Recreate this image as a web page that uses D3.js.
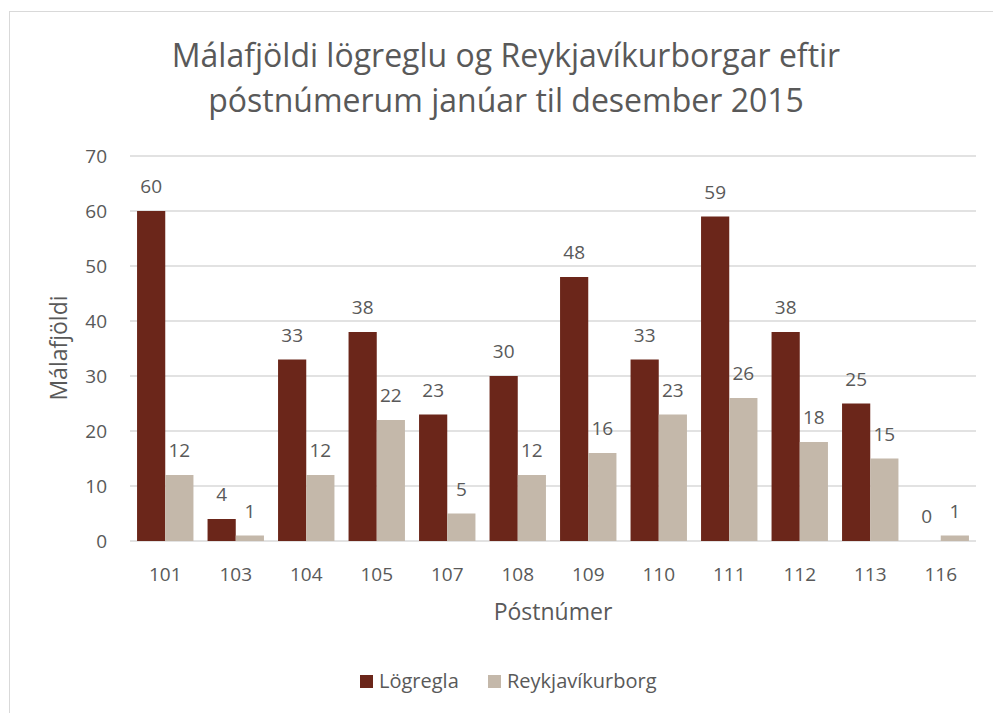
<!DOCTYPE html>
<html>
<head>
<meta charset="utf-8">
<script src="https://cdn.jsdelivr.net/npm/d3@7"></script>
<style>
  body { margin: 0; background: #fff; }
  text { font-family: "Open Sans", sans-serif; fill: #595959; }
</style>
</head>
<body>
<svg id="chart" width="993" height="713"></svg>
<script>
// chart data
const categories = ["101", "103", "104", "105", "107", "108", "109", "110", "111", "112", "113", "116"];
const logregla = [60, 4, 33, 38, 23, 30, 48, 33, 59, 38, 25, 0];
const reykjavik = [12, 1, 12, 22, 5, 12, 16, 23, 26, 18, 15, 1];
const seriesNames = ["Lögregla", "Reykjavíkurborg"];
const yTicks = [0, 10, 20, 30, 40, 50, 60, 70];

const COLORS = {
  logregla: "#6B261A",
  reykjavik: "#C4B8AA",
  grid: "#D9D9D9",
  text: "#595959",
};

const svg = d3.select("#chart");
const margin = { left: 130, right: 976, top: 156, bottom: 541 };

// outer chart border
svg.append("rect")
  .attr("x", 9.5).attr("y", 11.5)
  .attr("width", 1000).attr("height", 1000)
  .attr("fill", "none")
  .attr("stroke", "#D9D9D9");

const x = d3.scaleBand()
  .domain(categories)
  .range([margin.left, margin.right])
  .paddingInner(0.2)
  .paddingOuter(0.1);

const xSub = d3.scaleBand()
  .domain(seriesNames)
  .range([0, x.bandwidth()]);

const y = d3.scaleLinear()
  .domain([0, 70])
  .range([margin.bottom, margin.top]);

// gridlines
svg.append("g")
  .selectAll("line")
  .data(yTicks)
  .enter()
  .append("line")
  .attr("x1", margin.left)
  .attr("x2", margin.right)
  .attr("y1", (d) => y(d))
  .attr("y2", (d) => y(d))
  .attr("stroke", COLORS.grid)
  .attr("stroke-width", 1.3);

// y tick labels
svg.append("g")
  .selectAll("text")
  .data(yTicks)
  .enter()
  .append("text")
  .attr("x", 107)
  .attr("y", (d) => y(d))
  .attr("dy", "0.35em")
  .attr("text-anchor", "end")
  .attr("font-size", 19)
  .text((d) => d);

// x tick labels
svg.append("g")
  .selectAll("text")
  .data(categories)
  .enter()
  .append("text")
  .attr("x", (d) => x(d) + x.bandwidth() / 2)
  .attr("y", 581)
  .attr("text-anchor", "middle")
  .attr("font-size", 19)
  .text((d) => d);

const rows = categories.map((c, i) => ({
  cat: c,
  vals: [
    { name: seriesNames[0], v: logregla[i], color: COLORS.logregla },
    { name: seriesNames[1], v: reykjavik[i], color: COLORS.reykjavik },
  ],
}));

const groups = svg.append("g")
  .selectAll("g")
  .data(rows)
  .enter()
  .append("g")
  .attr("transform", (d) => `translate(${x(d.cat)},0)`);

groups.selectAll("rect")
  .data((d) => d.vals)
  .enter()
  .append("rect")
  .attr("x", (d) => xSub(d.name))
  .attr("width", xSub.bandwidth())
  .attr("y", (d) => y(d.v))
  .attr("height", (d) => y(0) - y(d.v))
  .attr("fill", (d) => d.color);

// data labels
groups.selectAll("text")
  .data((d) => d.vals)
  .enter()
  .append("text")
  .attr("x", (d) => xSub(d.name) + xSub.bandwidth() / 2)
  .attr("y", (d) => y(d.v) - 18)
  .attr("text-anchor", "middle")
  .attr("font-size", 19)
  .text((d) => d.v);

// title
const title = svg.append("text")
  .attr("x", 506)
  .attr("text-anchor", "middle")
  .attr("font-size", 32);
title.append("tspan").attr("x", 506).attr("y", 67)
  .text("Málafjöldi lögreglu og Reykjavíkurborgar eftir");
title.append("tspan").attr("x", 506).attr("y", 112)
  .text("póstnúmerum janúar til desember 2015");

// axis titles
svg.append("text")
  .attr("x", 553)
  .attr("y", 620)
  .attr("text-anchor", "middle")
  .attr("font-size", 23)
  .text("Póstnúmer");

svg.append("text")
  .attr("transform", "translate(67,348) rotate(-90)")
  .attr("text-anchor", "middle")
  .attr("font-size", 23)
  .text("Málafjöldi");

// legend
const legendItems = [
  { name: seriesNames[0], color: COLORS.logregla, x: 360 },
  { name: seriesNames[1], color: COLORS.reykjavik, x: 488 },
];
const legend = svg.append("g")
  .selectAll("g")
  .data(legendItems)
  .enter()
  .append("g")
  .attr("transform", (d) => `translate(${d.x},675)`);
legend.append("rect")
  .attr("width", 13).attr("height", 13)
  .attr("fill", (d) => d.color);
legend.append("text")
  .attr("x", 19)
  .attr("y", 13)
  .attr("font-size", 20)
  .text((d) => d.name);
</script>
</body>
</html>
